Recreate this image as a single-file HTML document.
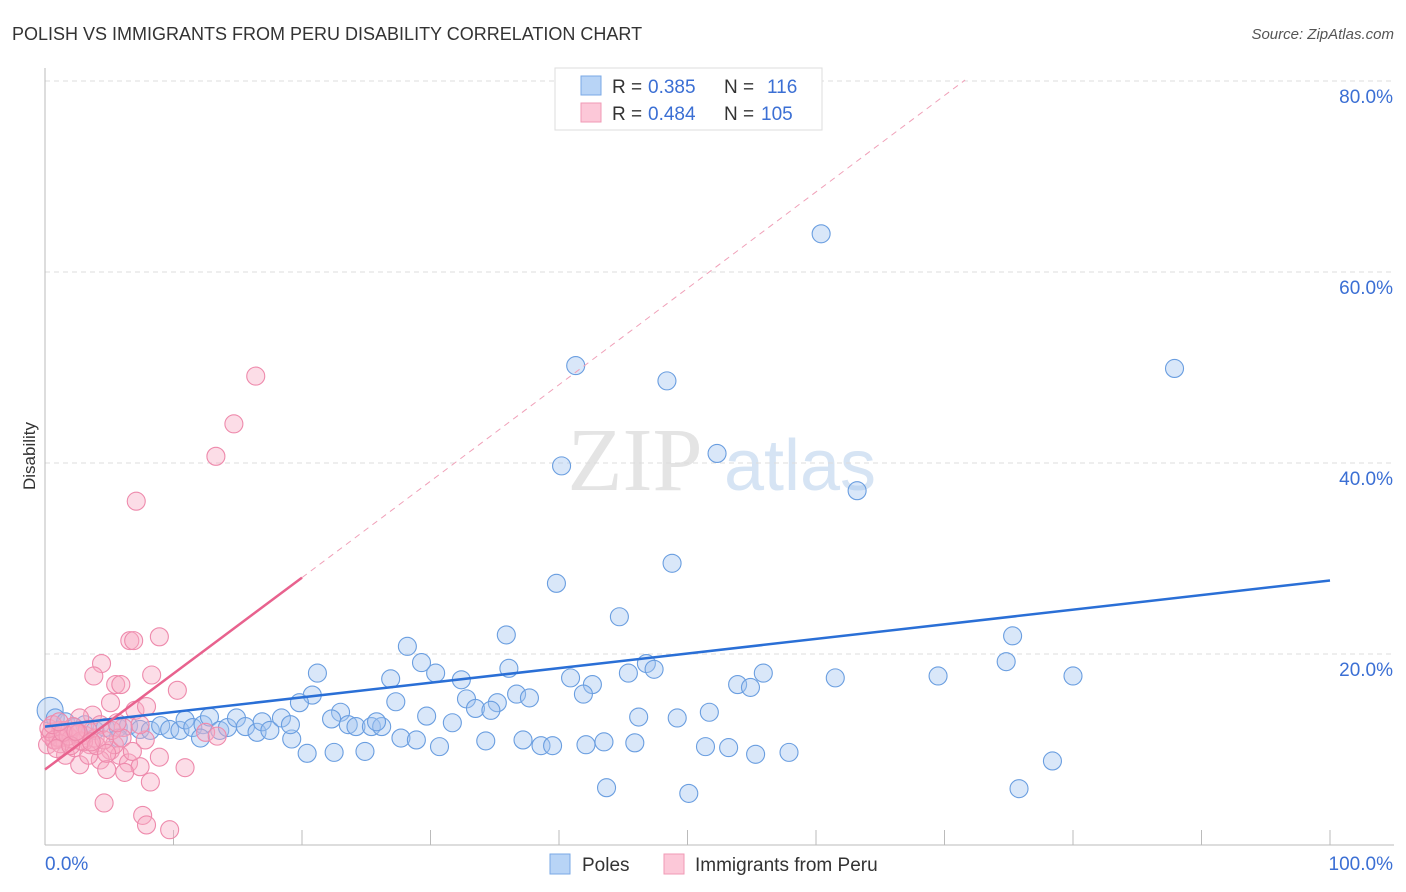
<!DOCTYPE html>
<html><head><meta charset="utf-8"><style>
body{margin:0;background:#fff;font-family:"Liberation Sans",sans-serif}
svg{display:block}
</style></head><body>
<svg id="chart" width="1406" height="892" xmlns="http://www.w3.org/2000/svg">
<text x="12" y="40" font-size="18" fill="#333">POLISH VS IMMIGRANTS FROM PERU DISABILITY CORRELATION CHART</text>
<text x="1394" y="39" font-size="15" fill="#555" text-anchor="end" font-style="italic">Source: ZipAtlas.com</text>
<text x="35" y="456" font-size="17" fill="#333" text-anchor="middle" transform="rotate(-90 35 456)">Disability</text>
<g>
<text x="635" y="490" font-size="90" fill="#e4e4e4" text-anchor="middle" font-family="Liberation Serif,serif">ZIP</text>
<text x="800" y="490" font-size="72" fill="#d6e4f4" text-anchor="middle">atlas</text>
</g>
<g id="grid"></g>
<g id="axes"></g>
<g id="pts"></g>
<g id="lines"></g>
<g>
<rect x="555" y="68" width="267" height="62" fill="#fff" stroke="#ddd"/>
<rect x="581" y="76" width="20" height="19" fill="#b8d4f6" stroke="#7aa8e6"/>
<rect x="581" y="103" width="20" height="19" fill="#fcc8d8" stroke="#f09ab6"/>
<text y="93" font-size="19" fill="#333"><tspan x="612">R =</tspan><tspan x="648" fill="#3b6fd4">0.385</tspan><tspan x="724">N =</tspan><tspan x="767" fill="#3b6fd4">116</tspan></text>
<text y="120" font-size="19" fill="#333"><tspan x="612">R =</tspan><tspan x="648" fill="#3b6fd4">0.484</tspan><tspan x="724">N =</tspan><tspan x="761" fill="#3b6fd4">105</tspan></text>
</g>
<g>
<rect x="550" y="854" width="20" height="20" fill="#b8d4f6" stroke="#7aa8e6"/>
<text x="582" y="871" font-size="19" fill="#333">Poles</text>
<rect x="664" y="854" width="20" height="20" fill="#fcc8d8" stroke="#f09ab6"/>
<text x="695" y="871" font-size="19" fill="#333">Immigrants from Peru</text>
</g>
</svg>
<script>
const yTicks=[20,40,60,80];
const yTickLabels=["20.0%","40.0%","60.0%","80.0%"];
const xTicks=[10,20,30,40,50,60,70,80,90,100];
const polesX=[60.4,41.3,48.4,87.9,40.2,52.3,63.2,39.8,48.8,44.7,35.9,28.2,75.3,74.8,80.0,69.5,61.5,55.9,46.8,47.4,45.4,42.6,40.9,41.9,36.1,32.4,30.4,29.3,26.9,21.2,20.8,19.8,32.8,35.2,36.7,37.7,33.5,34.7,27.3,29.7,31.7,23.0,22.3,23.6,24.2,25.4,26.2,25.8,46.2,49.2,51.7,53.9,54.9,27.7,28.9,30.7,34.3,37.2,38.6,39.5,42.1,43.5,45.9,51.4,53.2,55.3,57.9,24.9,22.5,20.4,78.4,43.7,50.1,75.8,19.2,0.4,0.8,1.6,2.3,3.1,3.9,4.7,5.7,6.5,7.4,8.2,9.0,9.7,10.5,10.9,11.5,12.3,12.8,13.6,14.2,14.9,15.6,16.5,16.9,17.5,18.4,19.1,12.1,5.7];
const polesY=[64.0,50.2,48.6,49.9,39.7,41.0,37.1,27.4,29.5,23.9,22.0,20.8,21.9,19.2,17.7,17.7,17.5,18.0,19.0,18.4,18.0,16.8,17.5,15.8,18.5,17.3,18.0,19.1,17.4,18.0,15.7,14.9,15.3,14.9,15.8,15.4,14.3,14.1,15.0,13.5,12.8,13.9,13.2,12.6,12.4,12.4,12.4,12.9,13.4,13.3,13.9,16.8,16.5,11.2,11.0,10.3,10.9,11.0,10.4,10.4,10.5,10.8,10.7,10.3,10.2,9.5,9.7,9.8,9.7,9.6,8.8,6.0,5.4,5.9,11.1,14.1,13.3,12.9,12.3,12.6,12.0,12.3,12.3,12.5,12.1,12.0,12.5,12.1,12.0,13.1,12.3,12.6,13.4,12.0,12.3,13.3,12.4,11.8,12.9,12.0,13.3,12.6,11.2,11.2];
const peruX=[16.4,14.7,13.3,7.1,6.6,6.9,8.9,4.4,3.8,5.5,5.9,8.3,10.3,5.1,7.0,7.9,3.7,2.7,4.3,1.2,0.8,1.9,3.5,5.1,5.8,4.3,2.7,6.5,7.4,6.2,4.8,8.9,10.9,8.2,4.6,7.6,7.9,9.7,12.5,13.4,6.1,7.8,5.4,1.6,2.3,3.1,1.0,0.4,0.2,3.9,3.4,7.4,0.5,1.0,1.5,2.0,2.5,3.0,0.3,0.7,1.2,1.8,2.2,2.8,3.3,0.6,1.4,2.6,4.0,4.6,5.2,6.0,0.9,2.0,3.6,1.1,2.4,4.8,5.6,6.8];
const peruY=[49.1,44.1,40.7,36.0,21.4,21.4,21.8,19.0,17.7,16.8,16.8,17.8,16.2,14.9,14.1,14.5,13.6,13.3,12.6,12.0,11.0,10.8,10.5,9.9,9.4,8.9,8.4,8.6,8.2,7.6,7.9,9.2,8.1,6.6,4.4,3.1,2.1,1.6,11.8,11.4,12.3,11.0,10.5,9.4,10.2,11.5,11.2,11.5,10.5,11.2,9.4,12.6,11.8,11.3,12.0,11.1,11.6,10.8,12.2,11.0,10.6,11.4,12.4,10.9,12.1,12.6,11.8,11.7,10.4,11.0,12.0,11.2,10.1,10.4,10.8,12.9,11.9,9.6,12.8,9.8];
const blueLine=[12.4,27.7];
const pinkLine=[7.9,28.0,80.1];
const X=v=>45+v*12.85, Y=v=>845-v*9.55;
const NS="http://www.w3.org/2000/svg";
function mk(tag,at,parent){const e=document.createElementNS(NS,tag);for(const k in at)e.setAttribute(k,at[k]);document.getElementById(parent).appendChild(e);return e;}
yTicks.forEach((t,i)=>{
 const l=mk('line',{x1:45,x2:1394,y1:Y(t),y2:Y(t),stroke:'#ddd','stroke-dasharray':'5,4'},'grid');
 
 
 const tx=mk('text',{x:1393,y:Y(t)+22,'font-size':19,fill:'#3b6fd4','text-anchor':'end'},'grid');
 tx.textContent=yTickLabels[i];
 
 
});
let a=mk('line',{x1:45,x2:45,y1:68,y2:845,stroke:'#bbb'},'axes');


a=mk('line',{x1:45,x2:1394,y1:845,y2:845,stroke:'#bbb'},'axes');


xTicks.forEach(t=>{const l=mk('line',{x1:X(t),x2:X(t),y1:830,y2:845,stroke:'#bbb'},'axes');
 
 });
let t0=mk('text',{x:45,y:870,'font-size':19,fill:'#3b6fd4'},'axes');t0.textContent='0.0%';


t0=mk('text',{x:1393,y:870,'font-size':19,fill:'#3b6fd4','text-anchor':'end'},'axes');t0.textContent='100.0%';


polesX.forEach((x,i)=>{const c=mk('circle',{cx:X(x),cy:Y(polesY[i]),r:i==75?13:9,fill:'rgba(160,196,240,0.4)',stroke:'#6a9ee0','stroke-width':1.1},'pts');
 
 });
peruX.forEach((x,i)=>{const c=mk('circle',{cx:X(x),cy:Y(peruY[i]),r:9,fill:'rgba(248,170,196,0.4)',stroke:'#ee8aac','stroke-width':1.1},'pts');
 
 });
let ln=mk('line',{x1:X(0),y1:Y(blueLine[0]),x2:X(100),y2:Y(blueLine[1]),stroke:'#2a6fd6','stroke-width':2.5},'lines');


ln=mk('line',{x1:X(20),y1:Y(pinkLine[1]),x2:X(71.6),y2:Y(pinkLine[2]),stroke:'#f0a0b8','stroke-width':1,'stroke-dasharray':'6,5'},'lines');


ln=mk('line',{x1:X(0),y1:Y(pinkLine[0]),x2:X(20),y2:Y(pinkLine[1]),stroke:'#e8628e','stroke-width':2.5},'lines');


</script>
</body></html>
